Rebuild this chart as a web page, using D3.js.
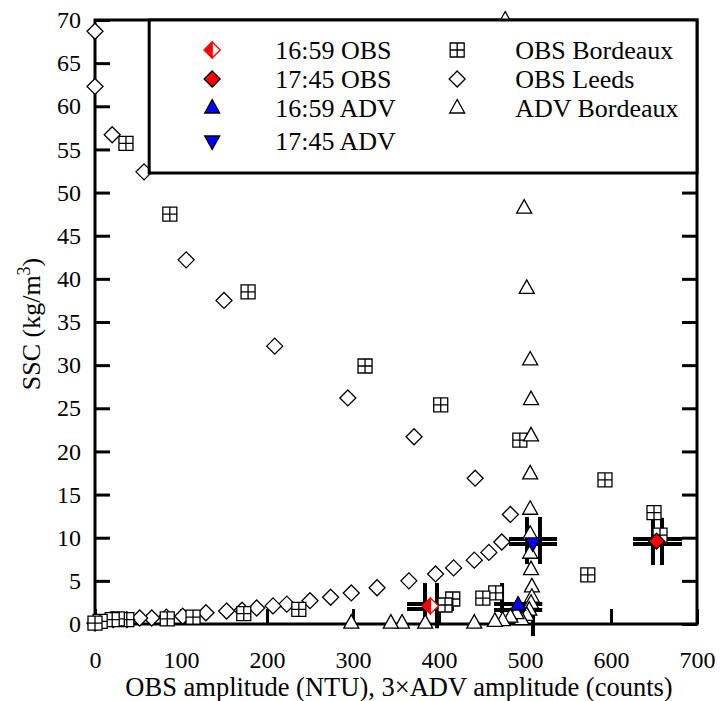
<!DOCTYPE html>
<html>
<head>
<meta charset="utf-8">
<script src="https://cdn.jsdelivr.net/npm/d3@7"></script>
<style>
  body { margin: 0; background: #fff; }
  text { font-family: "Liberation Serif", "Times New Roman", serif; fill: #000; }
</style>
</head>
<body>
<div id="chart"></div>
<script>
// tick values
var xTicks = [0, 100, 200, 300, 400, 500, 600, 700];
var yTicks = [0, 5, 10, 15, 20, 25, 30, 35, 40, 45, 50, 55, 60, 65, 70];

// laboratory calibrations [amplitude, SSC]
var obsLeeds = [[0, 68.7], [0, 62.3], [20, 56.7], [57, 52.4], [106, 42.2], [150, 37.5],
  [209, 32.2], [294, 26.2], [371, 21.7], [442, 16.9], [483, 12.7], [473, 9.5], [458, 8.3],
  [441, 7.4], [417, 6.5], [396, 5.8], [365, 5.0], [328, 4.2], [298, 3.6], [274, 3.1],
  [250, 2.7], [223, 2.3], [207, 2.1], [188, 1.85], [171, 1.6], [153, 1.5], [129, 1.3],
  [102, 0.9], [83, 0.8], [66, 0.7], [52, 0.7], [37, 0.5], [21, 0.5], [0, 0.1]];

var obsBordeaux = [[36, 55.7], [87, 47.5], [178, 38.5], [314, 29.9], [402, 25.4], [494, 21.3],
  [593, 16.7], [650, 12.9], [657, 10.3], [573, 5.7], [466, 3.6], [451, 3.0], [416, 2.9],
  [407, 2.2], [237, 1.7], [173, 1.2], [114, 0.8], [84, 0.6], [37, 0.5], [26, 0.6],
  [20, 0.5], [6, 0.3], [0, 0.1]];

var advBordeaux = [[477, 70], [499, 48.2], [502, 38.9], [506, 30.6], [507, 26], [507, 21.8],
  [506, 17.4], [506, 13.3], [506, 10.4], [506, 8.2], [507, 6.3], [508, 4.3], [508, 3.1],
  [507, 2.4], [505, 1.6], [502, 1.0], [496, 0.5], [490, 1.2], [483, 0.8], [474, 0.4],
  [465, 0.3], [441, 0.1], [384, 0.1], [357, 0.1], [344, 0.1], [298, 0.1]];

// field points
var obs1659 = [[390, 2.1]];
var obs1745 = [[653, 9.6]];
var adv1659 = [[492, 2.2]];
var adv1745 = [[509, 9.4]];

// error bars of the field points
// vertical: [x, yLow, yHigh]   horizontal: [y, xLow, xHigh]
var errV = [[383.7, -0.5, 4.75], [397.7, -0.5, 4.75],
  [473.3, 1.27, 4.75], [509.3, -1.4, 2.78],
  [502.3, 6.95, 12.4], [517.4, 6.95, 12.4],
  [648.8, 6.84, 12.3], [659.3, 6.84, 12.3]];
var errH = [[2.32, 362.8, 417.4], [1.74, 362.8, 417.4],
  [2.32, 464, 520], [1.62, 464, 520],
  [9.85, 481.4, 537.2], [9.27, 481.4, 537.2],
  [9.85, 625.6, 682.6], [9.27, 625.6, 682.6]];

var legendLeft = ["16:59 OBS", "17:45 OBS", "16:59 ADV", "17:45 ADV"];
var legendRight = ["OBS Bordeaux", "OBS Leeds", "ADV Bordeaux"];

// set the dimensions and margins of the graph
var margin = {top: 20, right: 25, bottom: 77, left: 95},
    width = 722 - margin.left - margin.right,
    height = 701 - margin.top - margin.bottom;

var svg = d3.select("#chart")
  .append("svg")
    .attr("width", width + margin.left + margin.right)
    .attr("height", height + margin.top + margin.bottom)
  .append("g")
    .attr("transform", "translate(" + margin.left + "," + margin.top + ")");

var x = d3.scaleLinear().domain([0, 700]).range([0, width]);
var y = d3.scaleLinear().domain([0, 70]).range([height, 0]);

// marker shapes
function diamond(r) { return "M0," + (-r) + "L" + r + ",0L0," + r + "L" + (-r) + ",0Z"; }
var triUp = "M0,-8.5L7.5,5L-7.5,5Z";
var triDown = "M0,8.5L7.5,-5L-7.5,-5Z";
var boxCross = "M-7,-7h14v14h-14Z M0,-7v14 M-7,0h14";

// axes, ticks inside
svg.append("g")
  .attr("transform", "translate(0," + height + ")")
  .call(d3.axisBottom(x).tickValues(xTicks).tickSizeInner(-15).tickSizeOuter(0).tickPadding(27));
svg.append("g")
  .call(d3.axisLeft(y).tickValues(yTicks).tickSizeInner(-15).tickSizeOuter(0).tickPadding(14));
svg.append("g")
  .attr("transform", "translate(" + width + ",0)")
  .call(d3.axisRight(y).tickValues(yTicks).tickSizeInner(-15).tickSizeOuter(0).tickFormat(""));

svg.selectAll(".domain").remove();
svg.selectAll(".tick line").attr("stroke", "#000").attr("stroke-width", 3);
svg.selectAll(".tick text")
  .attr("font-family", "Liberation Serif, serif")
  .style("font-family", "'Liberation Serif', serif")
  .style("font-size", "24px");

// frame
svg.append("rect")
  .attr("width", width).attr("height", height)
  .attr("fill", "none").attr("stroke", "#000").attr("stroke-width", 3);

// error bars
svg.selectAll(".ev").data(errV).enter().append("line")
  .attr("x1", function(d) { return x(d[0]); }).attr("x2", function(d) { return x(d[0]); })
  .attr("y1", function(d) { return y(d[1]); }).attr("y2", function(d) { return y(d[2]); })
  .attr("stroke", "#000").attr("stroke-width", 4);
svg.selectAll(".eh").data(errH).enter().append("line")
  .attr("y1", function(d) { return y(d[0]); }).attr("y2", function(d) { return y(d[0]); })
  .attr("x1", function(d) { return x(d[1]); }).attr("x2", function(d) { return x(d[2]); })
  .attr("stroke", "#000").attr("stroke-width", 4);

function scatter(data, path, fill, stroke) {
  return svg.append("g").selectAll("path").data(data).enter().append("path")
    .attr("transform", function(d) { return "translate(" + x(d[0]) + "," + y(d[1]) + ")"; })
    .attr("d", path)
    .attr("fill", fill).attr("stroke", stroke).attr("stroke-width", 1.3);
}

scatter(obsLeeds, diamond(8), "#fff", "#000");
scatter(obsBordeaux, boxCross, "#fff", "#000");
scatter(advBordeaux, triUp, "#fff", "#000");

// field points on top
scatter(obs1659, diamond(8), "#fff", "red");
scatter(obs1659, "M0,-8L-8,0L0,8Z", "red", "red");
scatter(obs1745, diamond(8), "red", "#000");
scatter(adv1659, triUp, "blue", "#000");
scatter(adv1745, triDown, "blue", "#000");

// legend box
var lx = x(63), ly = 0;
var legend = svg.append("g");
legend.append("rect")
  .attr("x", lx).attr("y", ly)
  .attr("width", width - lx).attr("height", 153)
  .attr("fill", "#fff").attr("stroke", "#000").attr("stroke-width", 3);

var rowY = [30, 59, 88, 121];
var leftShapes = [null, diamond(8), triUp, triDown];
var leftFill = [null, "red", "blue", "blue"];

legendLeft.forEach(function(t, i) {
  var g = legend.append("g").attr("transform", "translate(" + (lx + 63) + "," + rowY[i] + ")");
  if (i === 0) {
    g.append("path").attr("d", diamond(8)).attr("fill", "#fff").attr("stroke", "red").attr("stroke-width", 1.3);
    g.append("path").attr("d", "M0,-8L-8,0L0,8Z").attr("fill", "red").attr("stroke", "red").attr("stroke-width", 1.3);
  } else {
    g.append("path").attr("d", leftShapes[i]).attr("fill", leftFill[i]).attr("stroke", "#000").attr("stroke-width", 1.3);
  }
  legend.append("text")
    .attr("x", lx + 126).attr("y", rowY[i]).attr("dy", "0.35em")
    .style("font-size", "26px")
    .text(t);
});

var rightShapes = [boxCross, diamond(8), triUp];
legendRight.forEach(function(t, i) {
  legend.append("path")
    .attr("transform", "translate(" + (lx + 308) + "," + rowY[i] + ")")
    .attr("d", rightShapes[i]).attr("fill", "#fff").attr("stroke", "#000").attr("stroke-width", 1.3);
  legend.append("text")
    .attr("x", lx + 366).attr("y", rowY[i]).attr("dy", "0.35em")
    .style("font-size", "26px")
    .text(t);
});

// axis titles
svg.append("text")
  .attr("x", 304).attr("y", height + 72)
  .attr("text-anchor", "middle")
  .style("font-size", "26.5px")
  .text("OBS amplitude (NTU), 3\u00d7ADV amplitude (counts)");

var yt = svg.append("text")
  .attr("transform", "translate(-55," + (height / 2 + 2) + ") rotate(-90)")
  .attr("text-anchor", "middle")
  .style("font-size", "26px");
yt.append("tspan").text("SSC (kg/m");
yt.append("tspan").attr("dy", "-10").style("font-size", "18px").text("3");
yt.append("tspan").attr("dy", "10").text(")");
</script>
</body>
</html>
